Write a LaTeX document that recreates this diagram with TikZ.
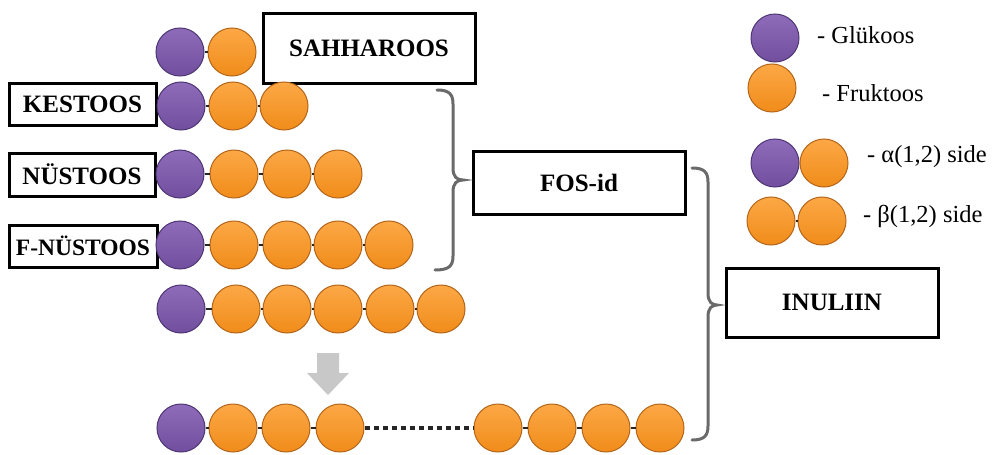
\documentclass[tikz,border=0pt]{standalone}
\usepackage{fontspec}
\setmainfont{Liberation Serif}
\definecolor{purpmain}{HTML}{714F9E}
\definecolor{purplight}{HTML}{8E6CBA}
\definecolor{purpdark}{HTML}{4F3674}
\definecolor{ormain}{HTML}{F08C1A}
\definecolor{orlight}{HTML}{FCA846}
\definecolor{ordark}{HTML}{B5661A}
\definecolor{bonddark}{HTML}{262626}
\definecolor{bracegray}{HTML}{6A6A6A}
\definecolor{arrowgray}{HTML}{C8C8C8}
\begin{document}
\begin{tikzpicture}[x=1pt,y=-1pt,
  bead/.style={circle,minimum size=48pt,inner sep=0pt,line width=1pt},
  glc/.style={bead,draw=purpdark,top color=purplight,bottom color=purpmain},
  frc/.style={bead,draw=ordark,top color=orlight,bottom color=ormain},
  bond/.style={line width=2.4pt,draw=bonddark},
  dotline/.style={line width=3.6pt,draw=bonddark,dash pattern=on 5pt off 4pt},
  lbox/.style={draw=black,line width=3pt,fill=white,inner sep=0pt,
    font=\fontsize{25}{30}\selectfont\bfseries},
  legtext/.style={inner sep=0pt,anchor=base west,font=\fontsize{24.5}{29}\selectfont},
  bracepath/.style={draw=bracegray,line width=3pt,line cap=round}
]
\useasboundingbox (0,0) rectangle (997,455);
\fill[white] (0,0) rectangle (997,455);

% label boxes
\node[lbox,minimum width=212pt,minimum height=70pt] (sah) at (369,48) {SAHHAROOS};
\node[lbox,minimum width=147pt,minimum height=42pt] (kes) at (82.5,104) {KESTOOS};
\node[lbox,minimum width=146pt,minimum height=43pt] (nys) at (82,174.5) {NÜSTOOS};
\node[lbox,minimum width=148pt,minimum height=42pt,font=\fontsize{23.5}{28}\selectfont\bfseries] (fnys) at (83,246) {F-NÜSTOOS};
\node[lbox,minimum width=212pt,minimum height=63pt] (fos) at (579,182.5) {FOS-id};
\node[lbox,minimum width=212pt,minimum height=69pt] (inu) at (832,302.5) {INULIIN};

% row 1: sahharoos
\node[glc] (r1g) at (180,52) {};
\node[frc] (r1f1) at (232,52) {};
\draw[bond] (r1g) -- (r1f1);

% row 2: kestoos
\node[glc] (r2g) at (181,106) {};
\foreach \x [count=\i] in {233,284} \node[frc] (r2f\i) at (\x,106) {};
\draw[bond] (r2g) -- (r2f1) (r2f1) -- (r2f2);

% row 3: nystoos
\node[glc] (r3g) at (180,174) {};
\foreach \x [count=\i] in {234,287,338} \node[frc] (r3f\i) at (\x,174) {};
\draw[bond] (r3g) -- (r3f1) (r3f1) -- (r3f2) (r3f2) -- (r3f3);

% row 4: f-nystoos
\node[glc] (r4g) at (180,245) {};
\foreach \x [count=\i] in {234,287,338,389} \node[frc] (r4f\i) at (\x,245) {};
\draw[bond] (r4g) -- (r4f1) (r4f1) -- (r4f2) (r4f2) -- (r4f3) (r4f3) -- (r4f4);

% row 5
\node[glc] (r5g) at (181,309) {};
\foreach \x [count=\i] in {236,287,338,390,441} \node[frc] (r5f\i) at (\x,309) {};
\draw[bond] (r5g) -- (r5f1) (r5f1) -- (r5f2) (r5f2) -- (r5f3) (r5f3) -- (r5f4) (r5f4) -- (r5f5);

% arrow
\fill[arrowgray] (317,353) -- (339,353) -- (339,373) -- (349,373) -- (328,395) -- (307,373) -- (317,373) -- cycle;

% row 6
\node[glc] (r6g) at (181,428) {};
\foreach \x [count=\i] in {233,286,340,498,552,606,660} \node[frc] (r6f\i) at (\x,428) {};
\draw[bond] (r6g) -- (r6f1) (r6f1) -- (r6f2) (r6f2) -- (r6f3)
  (r6f4) -- (r6f5) (r6f5) -- (r6f6) (r6f6) -- (r6f7);
\draw[dotline] (r6f3) -- (r6f4);

% braces
\draw[bracepath] (437,90) .. controls (449,90) and (453,94) .. (453,104) -- (453,168)
  .. controls (453,177) and (457,180) .. (463,180)
  .. controls (457,180) and (453,183) .. (453,192) -- (453,256)
  .. controls (453,266) and (449,270) .. (435,270);
\draw[bracepath] (692,168) .. controls (704,168) and (708,172) .. (708,182) -- (708,293)
  .. controls (708,302) and (712,305) .. (717,305)
  .. controls (712,305) and (708,308) .. (708,317) -- (708,426)
  .. controls (708,436) and (704,440) .. (692,440);

% legend
\node[glc] (lg) at (775,38) {};
\node[frc] (lf) at (772,88) {};
\node[glc] (lag) at (775,163) {};
\node[frc] (laf) at (824,163) {};
\node[frc] (lbf1) at (771,221) {};
\node[frc] (lbf2) at (822,221) {};
\draw[bond] (lag) -- (laf) (lbf1) -- (lbf2);
\node[legtext] (tg) at (817,43) {- Glükoos};
\node[legtext] (tf) at (822,101) {- Fruktoos};
\node[legtext] (ta) at (867,162) {- α(1,2) side};
\node[legtext] (tb) at (863,222) {- β(1,2) side};
\end{tikzpicture}
\end{document}
